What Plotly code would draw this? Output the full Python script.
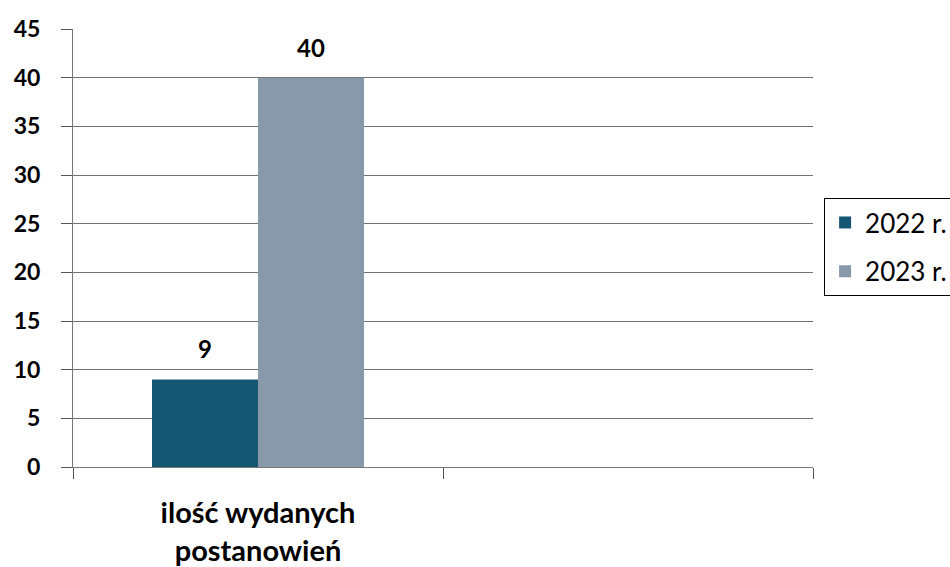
import plotly.graph_objects as go

categories = ["ilość wydanych<br>postanowień", " "]
series_names = ["2022 r.", "2023 r."]
values_2022 = [9, None]
values_2023 = [40, None]
y_ticks = [0, 5, 10, 15, 20, 25, 30, 35, 40, 45]

COLORS = ["#155673", "#8799AB"]
FONT = "Lato, Carlito, Calibri, sans-serif"
BAR_SHIFT = [-53, 53]

fig = go.Figure()
for i, (name, vals, col) in enumerate(zip(series_names, [values_2022, values_2023], COLORS)):
    fig.add_trace(go.Bar(
        x=categories, y=vals, name=name, legendgroup=name,
        marker_color=col, marker_line_width=0,
    ))
    for cat, v in zip(categories, vals):
        if v is None:
            continue
        fig.add_annotation(
            x=cat, y=v, xref="x", yref="y", text=f"<b>{v}</b>",
            showarrow=False, yanchor="bottom", yshift=14, xshift=BAR_SHIFT[i],
            font=dict(size=24, color="black", family=FONT),
        )

fig.update_layout(
    width=950, height=567,
    paper_bgcolor="white", plot_bgcolor="white",
    font=dict(family=FONT, color="black"),
    margin=dict(l=73, r=137, t=29, b=100, autoexpand=False),
    barmode="group", bargap=0.427, bargroupgap=0,
    showlegend=True,
    legend=dict(
        x=1.015, y=0.614, xanchor="left", yanchor="top",
        bordercolor="black", borderwidth=1, bgcolor="white",
        font=dict(size=26, family=FONT),
        tracegroupgap=12, itemsizing="constant",
    ),
    xaxis=dict(
        type="category", tickson="boundaries",
        ticks="outside", ticklen=11, tickcolor="#555", tickwidth=1,
        showline=True, linecolor="#777", linewidth=1,
        tickfont=dict(size=29, family=FONT, weight="bold"),
        ticklabelstandoff=20,
        showgrid=False,
    ),
    yaxis=dict(
        range=[0, 45], tickvals=y_ticks,
        ticks="outside", ticklen=11, tickcolor="#555",
        showline=True, linecolor="#777", linewidth=1,
        gridcolor="#707070", gridwidth=1,
        tickfont=dict(size=23, family=FONT, weight="bold"),
        ticklabelstandoff=16,
        zeroline=False,
    ),
)

# drop the browser's default body margin so the figure fills the window
fig.write_html(
    "out.html",
    config={"displayModeBar": False},
    post_script="document.body.style.margin='0';",
)
